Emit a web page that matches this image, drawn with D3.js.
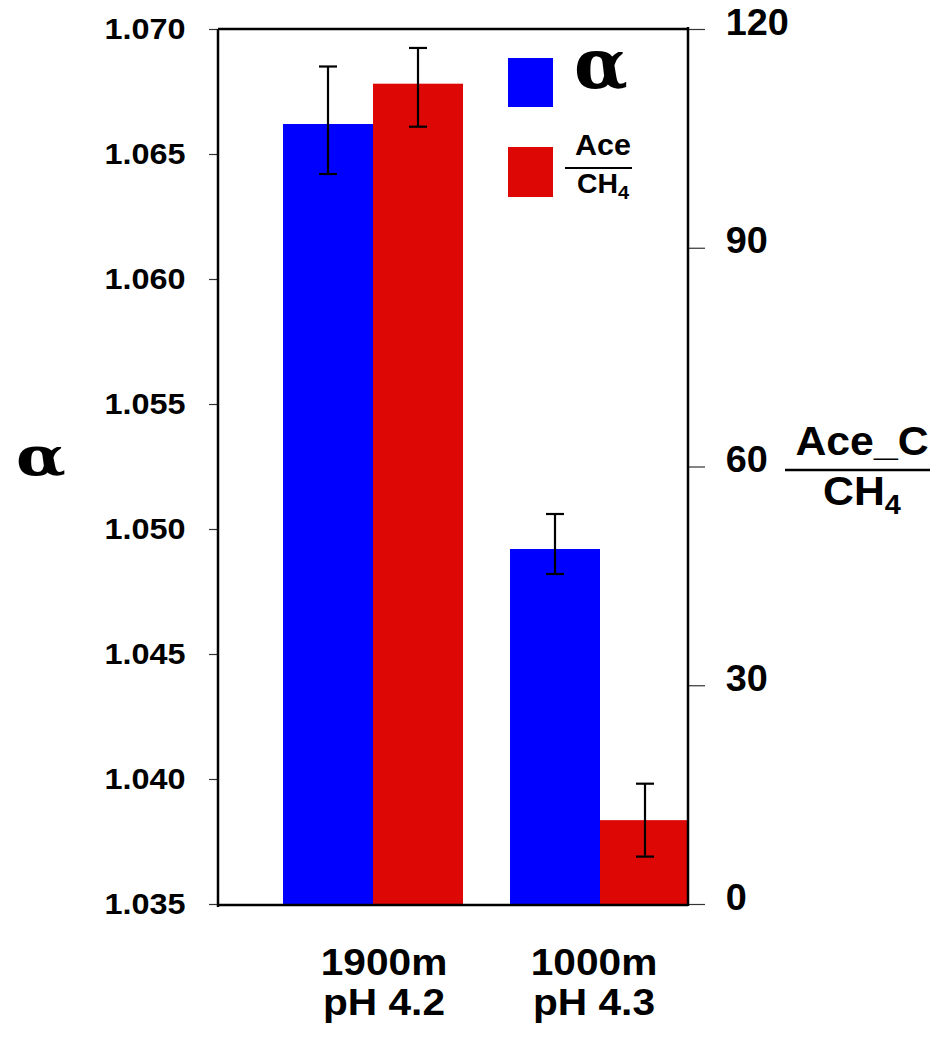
<!DOCTYPE html>
<html>
<head>
<meta charset="utf-8">
<script src="https://cdn.jsdelivr.net/npm/d3@7"></script>
<style>
  html, body { margin: 0; padding: 0; background: #fff; }
  svg { display: block; }
  text { font-family: "Liberation Sans", Arial, sans-serif; font-weight: bold; fill: #000; }
</style>
</head>
<body>
<svg id="chart" width="943" height="1037"></svg>
<script>
// ---- data ----
const categoryLine1 = ["1900m", "1000m"];
const categoryLine2 = ["pH 4.2", "pH 4.3"];
const alphaValues = [1.0662, 1.0492];
const alphaErrUpper = [1.0685, 1.0506];
const alphaErrLower = [1.0642, 1.0482];
const ratioValues = [112.5, 11.5];
const ratioErrUpper = [117.4, 16.5];
const ratioErrLower = [106.6, 6.5];
const leftTicks = [1.035, 1.040, 1.045, 1.050, 1.055, 1.060, 1.065, 1.070];
const rightTicks = [0, 30, 60, 90, 120];
const seriesKeys = ["alpha", "ratio"];
const seriesColors = ["#0000ff", "#dd0806"];

// ---- layout ----
const plotLeft = 218, plotRight = 688, plotTop = 29, plotBottom = 904;
const svg = d3.select("#chart");

const yL = d3.scaleLinear().domain([1.035, 1.070]).range([plotBottom, plotTop]);
const yR = d3.scaleLinear().domain([0, 120]).range([plotBottom, plotTop]);
const x0 = d3.scaleBand().domain(d3.range(categoryLine1.length)).range([283, 690]).paddingInner(0.207).paddingOuter(0);
const x1 = d3.scaleBand().domain(seriesKeys).range([0, x0.bandwidth()]);
const color = d3.scaleOrdinal().domain(seriesKeys).range(seriesColors);

// text helper: horizontally stretched text anchored at (x,y)
function stretchText(parent, x, y, sx, size, str, anchor) {
  const g = parent.append("g").attr("transform", `translate(${x},${y}) scale(${sx},1)`);
  const t = g.append("text").attr("font-size", size).attr("text-anchor", anchor || "middle");
  if (str !== undefined) t.text(str);
  return t;
}

const rows = d3.range(categoryLine1.length).map(i => ({
  i,
  bars: [
    { key: "alpha", v: alphaValues[i], hi: alphaErrUpper[i], lo: alphaErrLower[i], y: yL, base: 1.035 },
    { key: "ratio", v: ratioValues[i], hi: ratioErrUpper[i], lo: ratioErrLower[i], y: yR, base: 0 }
  ]
}));

svg.append("clipPath").attr("id", "plotclip")
  .append("rect").attr("x", plotLeft).attr("y", 0).attr("width", plotRight - plotLeft).attr("height", plotBottom + 2);

const gBars = svg.append("g").attr("clip-path", "url(#plotclip)");
const groups = gBars.selectAll("g.grp").data(rows).join("g")
  .attr("class", "grp")
  .attr("transform", d => `translate(${x0(d.i)},0)`);

groups.selectAll("rect").data(d => d.bars).join("rect")
  .attr("x", d => x1(d.key))
  .attr("width", x1.bandwidth())
  .attr("y", d => d.y(d.v))
  .attr("height", d => d.y(d.base) - d.y(d.v))
  .attr("fill", d => color(d.key));

// error bars
const capHalf = 9;
const eb = groups.selectAll("g.err").data(d => d.bars).join("g").attr("class", "err")
  .attr("stroke", "#000").attr("stroke-width", 2.2);
const cx = d => x1(d.key) + x1.bandwidth() / 2;
eb.append("line")
  .attr("x1", cx).attr("x2", cx)
  .attr("y1", d => d.y(d.hi)).attr("y2", d => d.y(d.lo));
eb.append("line")
  .attr("x1", d => cx(d) - capHalf).attr("x2", d => cx(d) + capHalf)
  .attr("y1", d => d.y(d.hi)).attr("y2", d => d.y(d.hi));
eb.append("line")
  .attr("x1", d => cx(d) - capHalf).attr("x2", d => cx(d) + capHalf)
  .attr("y1", d => d.y(d.lo)).attr("y2", d => d.y(d.lo));

// ---- axes ----
const axL = svg.append("g").attr("transform", `translate(${plotLeft},0)`)
  .call(d3.axisLeft(yL).tickValues(leftTicks).tickFormat(d3.format(".3f")).tickSize(9).tickSizeOuter(0).tickPadding(21));
axL.select(".domain").remove();
axL.selectAll(".tick line").attr("stroke", "#333").attr("stroke-width", 1.2);
axL.selectAll(".tick text").attr("font-size", 30).attr("font-family", "Liberation Sans, Arial, sans-serif")
  .attr("font-weight", "bold").attr("transform", "scale(1.08,1)");

const axR = svg.append("g").attr("transform", `translate(${plotRight},0)`)
  .call(d3.axisRight(yR).tickValues(rightTicks).tickSize(17).tickSizeOuter(0).tickPadding(19));
axR.select(".domain").remove();
axR.selectAll(".tick line").attr("stroke", "#333").attr("stroke-width", 1.2);
axR.selectAll(".tick text").attr("font-size", 36).attr("dy", "0.14em").attr("font-family", "Liberation Sans, Arial, sans-serif")
  .attr("font-weight", "bold").attr("transform", "scale(1.05,1)");

// frame lines
const frame = svg.append("g").attr("stroke", "#000").attr("stroke-width", 2.5).attr("fill", "none");
frame.append("line").attr("x1", plotLeft).attr("x2", plotLeft).attr("y1", plotTop).attr("y2", plotBottom + 3);
frame.append("line").attr("x1", plotRight).attr("x2", plotRight).attr("y1", plotTop - 2).attr("y2", plotBottom + 2);
frame.append("line").attr("x1", plotLeft).attr("x2", plotRight).attr("y1", plotTop).attr("y2", plotTop);
frame.append("line").attr("x1", plotLeft).attr("x2", plotRight).attr("y1", plotBottom + 1).attr("y2", plotBottom + 1);

// ---- category labels ----
const labelOffsets = [11, -6];
categoryLine1.forEach((d, i) => {
  const cxi = x0(i) + x0.bandwidth() / 2 + labelOffsets[i];
  stretchText(svg, cxi, 975, 1.13, 36, d);
  stretchText(svg, cxi, 1015, 1.13, 36, categoryLine2[i]);
});

// ---- left axis title ----
stretchText(svg, 41, 475, 1.2, 54, "α")
  .style("font-family", "'DejaVu Serif', 'Liberation Serif', serif");

// ---- right axis title ----
stretchText(svg, 862, 455, 1.07, 40, "Ace_C");
svg.append("line").attr("x1", 785).attr("x2", 930).attr("y1", 470).attr("y2", 470).attr("stroke", "#000").attr("stroke-width", 2.5);
const ch = stretchText(svg, 862, 505, 1.07, 40);
ch.append("tspan").text("CH");
ch.append("tspan").attr("font-size", 27).attr("dy", 9).text("4");

// ---- legend ----
const lg = svg.append("g");
lg.append("rect").attr("x", 508).attr("y", 58).attr("width", 45).attr("height", 49).attr("fill", color("alpha"));
lg.append("rect").attr("x", 508).attr("y", 147).attr("width", 45).attr("height", 50).attr("fill", color("ratio"));
stretchText(lg, 601, 88, 1.0, 70, "α")
  .style("font-family", "'DejaVu Serif', 'Liberation Serif', serif");
stretchText(lg, 603, 155, 1.05, 29, "Ace");
lg.append("line").attr("x1", 565).attr("x2", 632).attr("y1", 168).attr("y2", 168).attr("stroke", "#000").attr("stroke-width", 2);
const lch = stretchText(lg, 603, 193, 1.05, 27);
lch.append("tspan").text("CH");
lch.append("tspan").attr("font-size", 19).attr("dy", 6).text("4");
</script>
</body>
</html>
